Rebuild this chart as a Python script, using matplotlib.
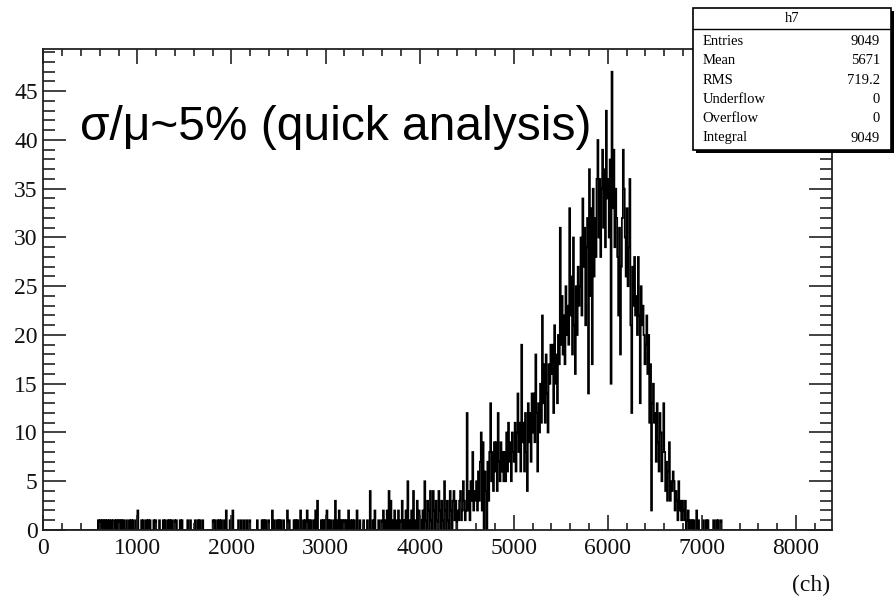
import matplotlib.pyplot as plt
import numpy as np
from matplotlib.patches import Rectangle
from matplotlib.lines import Line2D
from matplotlib.ticker import MultipleLocator

# channel binning of the spectrum
bin_width = 10
x_max = 8380
y_max = 49.3

# isolated low-energy counts: (channel, counts)
sparse_low = [
    (580, 1), (600, 1), (620, 1), (640, 1), (660, 1), (680, 1), (700, 1), (720, 1),
    (740, 1), (750, 1), (770, 1), (790, 1), (810, 1), (830, 1), (850, 1), (880, 1),
    (910, 1), (930, 1), (950, 1), (980, 1), (1000, 2), (1040, 1), (1060, 1), (1090, 1),
    (1110, 1), (1130, 1), (1170, 1), (1190, 1), (1230, 1), (1270, 1), (1290, 1),
    (1320, 1), (1340, 1), (1360, 1), (1390, 1), (1410, 1), (1450, 1), (1470, 1),
    (1530, 1), (1560, 1), (1610, 1), (1640, 1), (1660, 1), (1690, 1), (1800, 1),
    (1820, 1), (1850, 1), (1870, 1), (1890, 1), (1920, 1), (1940, 2), (1980, 1),
    (2010, 2), (2070, 1), (2100, 1), (2130, 1), (2160, 1), (2190, 1), (2270, 1),
    (2320, 1), (2340, 1), (2360, 1), (2390, 1), (2430, 2), (2450, 1), (2480, 1),
    (2500, 1), (2520, 1), (2550, 1), (2590, 2), (2610, 1), (2660, 1), (2680, 1),
    (2700, 1), (2730, 2), (2760, 1), (2780, 1), (2800, 2), (2820, 1), (2840, 1),
    (2870, 1), (2890, 2), (2910, 3), (2950, 1), (2970, 1), (2990, 1), (3010, 2),
    (3030, 1), (3050, 1), (3080, 1), (3100, 3), (3120, 1), (3140, 2), (3160, 1),
    (3180, 1), (3200, 1), (3220, 1), (3240, 2), (3260, 1), (3280, 1), (3300, 1),
    (3330, 2), (3360, 1), (3400, 1), (3440, 1), (3470, 4), (3500, 1), (3520, 2),
    (3560, 1), (3590, 1), (3610, 2), (3630, 1), (3650, 2), (3670, 4), (3690, 3),
    (3710, 1), (3730, 2), (3750, 1), (3770, 2), (3790, 1), (3810, 3), (3830, 1),
    (3850, 2), (3870, 5), (3890, 1), (3910, 2), (3930, 4), (3950, 1), (3970, 3),
    (3990, 2), (4010, 1), (4030, 2), (4050, 5), (4060, 1), (4080, 3), (4090, 2),
    (4110, 4), (4120, 1), (4140, 4), (4150, 2), (4170, 3), (4180, 1), (4200, 4),
    (4210, 2), (4230, 3), (4240, 1), (4260, 5), (4270, 2), (4290, 3), (4300, 1),
    (4320, 4), (4330, 2), (4350, 3), (4360, 4), (4370, 1), (4380, 3),
]

# dense region, one row per 100 channels starting at 4400
dense_start = 4400
dense_counts = [
    2, 1, 3, 4, 1, 2, 5, 3, 1, 2,
    12, 2, 4, 1, 5, 3, 8, 2, 4, 3,
    5, 2, 6, 3, 7, 10, 2, 9, 0, 6,
    4, 0, 7, 3, 8, 13, 5, 8, 4, 9,
    6, 9, 4, 12, 7, 5, 9, 6, 8, 5,
    8, 5, 10, 6, 11, 7, 9, 5, 10, 8,
    7, 11, 6, 10, 14, 8, 11, 6, 19, 9,
    11, 6, 12, 8, 4, 13, 9, 12, 7, 14,
    10, 14, 9, 18, 12, 6, 13, 10, 15, 11,
    22, 13, 17, 11, 18, 14, 10, 17, 15, 19,
    16, 19, 12, 21, 15, 18, 13, 20, 17, 31,
    19, 24, 18, 22, 17, 25, 20, 23, 19, 33,
    22, 26, 18, 30, 21, 16, 25, 20, 27, 23,
    25, 30, 22, 34, 27, 31, 21, 29, 32, 14,
    37, 24, 33, 17, 35, 26, 32, 28, 36, 40,
    30, 36, 28, 35, 39, 31, 37, 29, 43, 34,
    36, 30, 38, 15, 47, 33, 39, 29, 35, 32,
    28, 22, 31, 18, 27, 32, 39, 35, 30, 26,
    33, 25, 29, 36, 21, 12, 27, 23, 28, 22,
    24, 20, 28, 22, 13, 25, 21, 23, 20, 17,
    19, 22, 16, 20, 11, 17, 2, 13, 15, 11,
    12, 7, 13, 9, 6, 12, 10, 5, 8, 13,
    8, 4, 7, 3, 6, 9, 3, 5, 4, 6,
    5, 2, 4, 3, 1, 5, 2, 3, 1, 3,
    2, 1, 3, 0, 1, 2, 0, 1, 0, 1,
    0, 1, 0, 0, 2, 0, 1, 0, 0, 0,
]

sparse_high = [(7010, 1), (7040, 1), (7060, 1), (7120, 1), (7150, 1), (7170, 1), (7200, 1)]

stats_labels = ['Entries', 'Mean', 'RMS', 'Underflow', 'Overflow', 'Integral']
stats_values = ['9049', '5671', '719.2', '0', '0', '9049']

edges = np.arange(0, x_max + bin_width, bin_width)
counts = np.zeros(len(edges) - 1)
for ch, n in sparse_low + sparse_high:
    counts[ch // bin_width] = n
i0 = dense_start // bin_width
counts[i0:i0 + len(dense_counts)] = dense_counts

W, H = 895, 600
fig = plt.figure(figsize=(W / 100, H / 100), dpi=100)
ax = fig.add_axes([43.3 / W, 1 - 530 / H, (831.7 - 43.3) / W, (530 - 49.3) / H])

ax.stairs(counts, edges, color='black', lw=1.25)
ax.set_xlim(0, x_max)
ax.set_ylim(0, y_max)

frame_col = '#222222'
for s in ax.spines.values():
    s.set_linewidth(1.3)
    s.set_color(frame_col)

ax.xaxis.set_major_locator(MultipleLocator(1000))
ax.xaxis.set_minor_locator(MultipleLocator(200))
ax.yaxis.set_major_locator(MultipleLocator(5))
ax.yaxis.set_minor_locator(MultipleLocator(1))
ax.tick_params(axis='x', which='major', direction='in', length=11, width=1.2,
               top=True, colors=frame_col, pad=6)
ax.tick_params(axis='x', which='minor', direction='in', length=5, width=1.2,
               top=True, colors=frame_col)
ax.tick_params(axis='y', which='major', direction='in', length=16.5, width=1.2,
               right=True, colors=frame_col, pad=4)
ax.tick_params(axis='y', which='minor', direction='in', length=8.5, width=1.2,
               right=True, colors=frame_col)
for lab in ax.get_xticklabels() + ax.get_yticklabels():
    lab.set_fontfamily('Liberation Serif')
    lab.set_fontsize(17)
    lab.set_color('#111111')

fig.text(830 / W, 1 - 585 / H, '(ch)', ha='right', va='center',
         fontfamily='Liberation Serif', fontsize=17, color='#111111')

fig.text(80 / W, 1 - 140 / H, 'σ/μ~5% (quick analysis)', ha='left', va='baseline',
         fontfamily='Liberation Sans', fontsize=34.5, color='black')

# statistics box with drop shadow
bx0, bx1, by0, by1 = 693.3, 890.7, 8.3, 150.0
fig.patches.append(Rectangle(((bx0 + 3) / W, 1 - (by1 + 3) / H), (bx1 - bx0) / W,
                             (by1 - by0) / H, transform=fig.transFigure,
                             facecolor='black', edgecolor='none', zorder=5))
fig.patches.append(Rectangle((bx0 / W, 1 - by1 / H), (bx1 - bx0) / W, (by1 - by0) / H,
                             transform=fig.transFigure, facecolor='white',
                             edgecolor='black', lw=1.2, zorder=6))
fig.lines.append(Line2D([bx0 / W, bx1 / W], [1 - 29.3 / H, 1 - 29.3 / H],
                        transform=fig.transFigure, color='black', lw=1.0, zorder=7))
fig.text((bx0 + bx1) / 2 / W, 1 - 18.5 / H, 'h7', ha='center', va='center',
         fontfamily='Liberation Serif', fontsize=10.5, zorder=8)
row_y = [41.7, 61.0, 80.2, 99.5, 118.8, 138.0]
for lab, val, yy in zip(stats_labels, stats_values, row_y):
    fig.text(702.7 / W, 1 - yy / H, lab, ha='left', va='center',
             fontfamily='Liberation Serif', fontsize=10.5, zorder=8)
    fig.text(880 / W, 1 - yy / H, val, ha='right', va='center',
             fontfamily='Liberation Serif', fontsize=10.5, zorder=8)

fig.savefig('out.png', dpi=100)
